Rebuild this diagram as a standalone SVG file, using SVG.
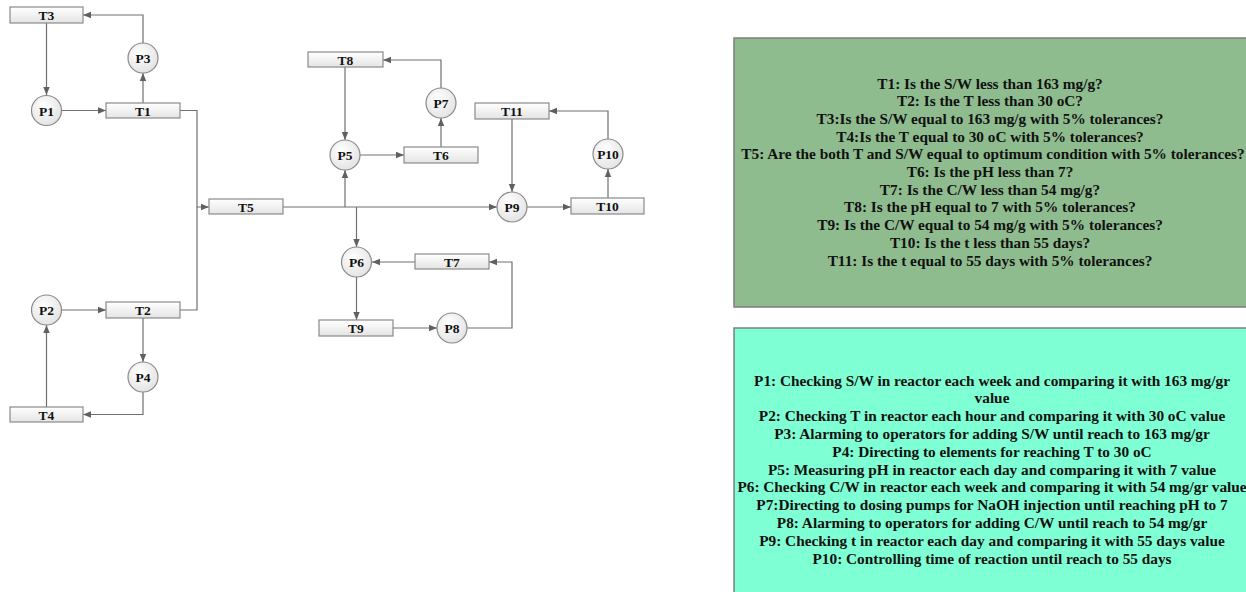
<svg xmlns="http://www.w3.org/2000/svg" width="1246" height="592" viewBox="0 0 1246 592">
<defs>
<linearGradient id="gb" x1="0" y1="0" x2="0" y2="1"><stop offset="0" stop-color="#ffffff"/><stop offset="1" stop-color="#e4e4e4"/></linearGradient>
<radialGradient id="gc" cx="0.4" cy="0.35" r="0.7"><stop offset="0" stop-color="#ffffff"/><stop offset="1" stop-color="#e2e2e2"/></radialGradient>
<marker id="ar" viewBox="0 0 8 8" refX="8" refY="4" markerWidth="8" markerHeight="8" markerUnits="userSpaceOnUse" orient="auto"><path d="M0,0.8 L8,4 L0,7.2 Z" fill="#606060"/></marker>
<style>
.box{fill:url(#gb);stroke:#8a8a8a;stroke-width:1.2}
.cir{fill:url(#gc);stroke:#8a8a8a;stroke-width:1.2}
.lb{font-family:"Liberation Serif",serif;font-weight:bold;font-size:13.5px;fill:#111;text-anchor:middle;dominant-baseline:central}
.ln{fill:none;stroke:#707070;stroke-width:1.2}
.ar{marker-end:url(#ar)}
.pt{font-family:"Liberation Serif",serif;font-weight:bold;font-size:15.3px;fill:#111;text-anchor:middle}
</style>
</defs>
<g id="connectors">
<path class="ln ar" d="M46.5,23 V95"/>
<path class="ln ar" d="M61,110.5 H106"/>
<path class="ln ar" d="M143,103 V73"/>
<path class="ln ar" d="M143,43 V15 H83"/>
<path class="ln ar" d="M180,110.5 H197 V207 H209"/>
<path class="ln" d="M180,310 H197 V207"/>
<path class="ln ar" d="M61,310 H106"/>
<path class="ln ar" d="M143,318 V362"/>
<path class="ln ar" d="M143,392 V414.5 H83"/>
<path class="ln ar" d="M46.5,407 V325"/>
<path class="ln ar" d="M283,207 H497"/>
<path class="ln ar" d="M345,207 V170"/>
<path class="ln ar" d="M356.5,207 V247"/>
<path class="ln ar" d="M345,67 V140"/>
<path class="ln ar" d="M360,155 H404"/>
<path class="ln ar" d="M441,147 V118"/>
<path class="ln ar" d="M441,88 V60 H383"/>
<path class="ln ar" d="M415,262 H372"/>
<path class="ln ar" d="M356.5,277 V320"/>
<path class="ln ar" d="M393,328 H437"/>
<path class="ln ar" d="M467,328 H512 V262 H489"/>
<path class="ln ar" d="M512,119 V192"/>
<path class="ln ar" d="M527,207 H571"/>
<path class="ln ar" d="M608,198 V169"/>
<path class="ln ar" d="M608,139 V111 H549"/>
</g>
<g id="T3"><rect class="box" x="10" y="7" width="73" height="16"/><text class="lb" x="46.5" y="15.5">T3</text></g>
<g id="T1"><rect class="box" x="106" y="103" width="74" height="15"/><text class="lb" x="143" y="111">T1</text></g>
<g id="T2"><rect class="box" x="106" y="302" width="74" height="16"/><text class="lb" x="143" y="310.5">T2</text></g>
<g id="T4"><rect class="box" x="10" y="407" width="73" height="15"/><text class="lb" x="46.5" y="415">T4</text></g>
<g id="T5"><rect class="box" x="209" y="199" width="74" height="15"/><text class="lb" x="246" y="207">T5</text></g>
<g id="T8"><rect class="box" x="308" y="52" width="75" height="15"/><text class="lb" x="345.5" y="60">T8</text></g>
<g id="T6"><rect class="box" x="404" y="147" width="74" height="16"/><text class="lb" x="441" y="155.5">T6</text></g>
<g id="T7"><rect class="box" x="415" y="254" width="74" height="15"/><text class="lb" x="452" y="262">T7</text></g>
<g id="T9"><rect class="box" x="319" y="320" width="74" height="16"/><text class="lb" x="356" y="328.5">T9</text></g>
<g id="T11"><rect class="box" x="475" y="103" width="74" height="16"/><text class="lb" x="512" y="111.5">T11</text></g>
<g id="T10"><rect class="box" x="571" y="198" width="73" height="16"/><text class="lb" x="607.5" y="206.5">T10</text></g>
<g id="P1"><circle class="cir" cx="46.5" cy="110.5" r="15"/><text class="lb" x="46.5" y="111">P1</text></g>
<g id="P3"><circle class="cir" cx="143" cy="58" r="15"/><text class="lb" x="143" y="58.5">P3</text></g>
<g id="P2"><circle class="cir" cx="46.5" cy="310" r="15"/><text class="lb" x="46.5" y="310.5">P2</text></g>
<g id="P4"><circle class="cir" cx="143" cy="377" r="15"/><text class="lb" x="143" y="377.5">P4</text></g>
<g id="P5"><circle class="cir" cx="345" cy="155" r="15"/><text class="lb" x="345" y="155.5">P5</text></g>
<g id="P7"><circle class="cir" cx="441" cy="103" r="15"/><text class="lb" x="441" y="103.5">P7</text></g>
<g id="P6"><circle class="cir" cx="356.5" cy="262" r="15"/><text class="lb" x="356.5" y="262.5">P6</text></g>
<g id="P8"><circle class="cir" cx="452" cy="328" r="15"/><text class="lb" x="452" y="328.5">P8</text></g>
<g id="P9"><circle class="cir" cx="512" cy="207" r="15"/><text class="lb" x="512" y="207.5">P9</text></g>
<g id="P10"><circle class="cir" cx="608" cy="154" r="15"/><text class="lb" x="608" y="154.5">P10</text></g>
<g id="legendT">
<rect x="734" y="38" width="520" height="269" fill="#8FBC8F" stroke="#7f7f7f" stroke-width="1.5"/>
<text class="pt" x="990" y="88.5">T1: Is the S/W less than 163 mg/g?</text>
<text class="pt" x="990" y="106.2">T2: Is the T less than 30 oC?</text>
<text class="pt" x="990" y="123.9">T3:Is the S/W equal to 163 mg/g with 5% tolerances?</text>
<text class="pt" x="990" y="141.6">T4:Is the T equal to 30 oC with 5% tolerances?</text>
<text class="pt" x="993" y="159.3">T5: Are the both T and S/W equal to optimum condition with 5% tolerances?</text>
<text class="pt" x="990" y="177">T6: Is the pH less than 7?</text>
<text class="pt" x="990" y="194.7">T7: Is the C/W less than 54 mg/g?</text>
<text class="pt" x="990" y="212.4">T8: Is the pH equal to 7 with 5% tolerances?</text>
<text class="pt" x="990" y="230.1">T9: Is the C/W equal to 54 mg/g with 5% tolerances?</text>
<text class="pt" x="990" y="247.8">T10: Is the t less than 55 days?</text>
<text class="pt" x="990" y="265.5">T11: Is the t equal to 55 days with 5% tolerances?</text>
</g>
<g id="legendP">
<rect x="734" y="328" width="520" height="270" fill="#7FFFD4" stroke="#7f7f7f" stroke-width="1.5"/>
<text class="pt" x="992" y="385.5">P1: Checking S/W in reactor each week and comparing it with 163 mg/gr</text>
<text class="pt" x="992" y="403.3">value</text>
<text class="pt" x="992" y="421.1">P2: Checking T in reactor each hour and comparing it with 30 oC value</text>
<text class="pt" x="992" y="438.9">P3: Alarming to operators for adding S/W until reach to 163 mg/gr</text>
<text class="pt" x="992" y="456.7">P4: Directing to elements for reaching T to 30 oC</text>
<text class="pt" x="992" y="474.5">P5: Measuring pH in reactor each day and comparing it with 7 value</text>
<text class="pt" x="992" y="492.3">P6: Checking C/W in reactor each week and comparing it with 54 mg/gr value</text>
<text class="pt" x="992" y="510.1">P7:Directing to dosing pumps for NaOH injection until reaching pH to 7</text>
<text class="pt" x="992" y="527.9">P8: Alarming to operators for adding C/W until reach to 54 mg/gr</text>
<text class="pt" x="992" y="545.7">P9: Checking t in reactor each day and comparing it with 55 days value</text>
<text class="pt" x="992" y="563.5">P10: Controlling time of reaction until reach to 55 days</text>
</g>
</svg>
